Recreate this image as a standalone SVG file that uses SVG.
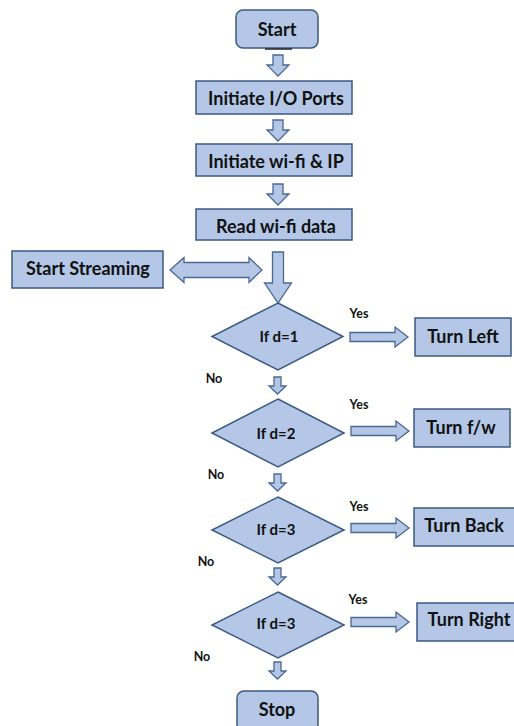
<svg xmlns="http://www.w3.org/2000/svg" width="514" height="726" viewBox="0 0 514 726">
<style>
.box{fill:#b4c7e7;stroke:#3c5a82;stroke-width:1.5}
.arr{fill:#b4c7e7;stroke:#4a6890;stroke-width:1.3;stroke-linejoin:miter}
.t{font-family:Lato,"Open Sans","Liberation Sans",sans-serif;font-weight:bold;font-size:18px;fill:#111;text-anchor:middle;dominant-baseline:central}
.s{font-family:Lato,"Open Sans","Liberation Sans",sans-serif;font-weight:bold;font-size:12.5px;fill:#111;text-anchor:middle;dominant-baseline:central}
.d{font-family:Lato,"Open Sans","Liberation Sans",sans-serif;font-weight:bold;font-size:15px;fill:#111;text-anchor:middle;dominant-baseline:central}
</style>
<defs>
<path id="sd" d="M-3.5,0 H3.5 V9 H8.5 L0,17 L-8.5,9 H-3.5 Z"/>
<path id="md" d="M-5,0 H5 V10 H11 L0,21 L-11,10 H-5 Z"/>
<path id="ra" d="M0,-4.5 H45 V-10 L58,0 L45,10 V4.5 H0 Z"/>
</defs>
<rect width="514" height="726" fill="#fff"/>
<g id="connectors">
<use href="#md" class="arr" x="278" y="55"/>
<use href="#md" class="arr" x="278" y="120"/>
<use href="#md" class="arr" x="278" y="184"/>
<path class="arr" d="M272.5,252 H283.5 V283 H291.5 L278,303 L264.5,283 H272.5 Z"/>
<path class="arr" d="M170,270 L184,257.5 V262.5 H249 V257.5 L262,270 L249,282.5 V277.5 H184 V282.5 Z"/>
<use href="#ra" class="arr" x="350" y="337"/>
<use href="#sd" class="arr" x="277.5" y="377"/>
<use href="#ra" class="arr" x="351" y="431"/>
<use href="#sd" class="arr" x="277.5" y="474"/>
<use href="#ra" class="arr" x="351" y="528"/>
<use href="#sd" class="arr" x="277.5" y="568"/>
<use href="#ra" class="arr" x="351" y="622"/>
<use href="#sd" class="arr" x="277.5" y="662"/>
<text class="s" x="359" y="313">Yes</text>
<text class="s" x="214" y="378">No</text>
<text class="s" x="359" y="404">Yes</text>
<text class="s" x="216" y="474">No</text>
<text class="s" x="359" y="506">Yes</text>
<text class="s" x="206" y="561">No</text>
<text class="s" x="358" y="599">Yes</text>
<text class="s" x="202" y="656">No</text>
</g>
<g id="start"><rect class="box" x="236" y="10" width="82" height="38" rx="7"/><line x1="265" y1="49" x2="292" y2="49" stroke="#222" stroke-width="1.5"/><text class="t" x="277" y="29">Start</text></g>
<g id="initio"><rect class="box" x="196" y="81" width="156" height="33"/><text class="t" x="276" y="98">Initiate I/O Ports</text></g>
<g id="initwifi"><rect class="box" x="196" y="144" width="156" height="32"/><text class="t" x="276" y="161">Initiate wi-fi &amp; IP</text></g>
<g id="readwifi"><rect class="box" x="196" y="209" width="156" height="31"/><text class="t" x="276" y="226">Read wi-fi data</text></g>
<g id="streaming"><rect class="box" x="12" y="251" width="151" height="37"/><text class="t" x="88" y="268">Start Streaming</text></g>
<g id="d1"><polygon class="box" points="278,303 343,336.5 278,370 212,336.5"/><text class="d" x="279" y="336">If d=1</text></g>
<g id="left"><rect class="box" x="415" y="318" width="96" height="38"/><text class="t" x="463" y="336">Turn Left</text></g>
<g id="d2"><polygon class="box" points="278,399 344,433 278,467 212,433"/><text class="d" x="276" y="433">If d=2</text></g>
<g id="fw"><rect class="box" x="414" y="409" width="96" height="38"/><text class="t" x="461" y="427">Turn f/w</text></g>
<g id="d3"><polygon class="box" points="278,497 344,530 278,563 212,530"/><text class="d" x="276" y="529">If d=3</text></g>
<g id="back"><rect class="box" x="414" y="508" width="102" height="38"/><text class="t" x="464" y="525">Turn Back</text></g>
<g id="d4"><polygon class="box" points="278,592 344,625 278,658 212,625"/><text class="d" x="276" y="623">If d=3</text></g>
<g id="right"><rect class="box" x="417" y="603" width="104" height="38"/><text class="t" x="469" y="619">Turn Right</text></g>
<g id="stop"><rect class="box" x="237" y="691" width="81" height="40" rx="7"/><text class="t" x="277" y="709">Stop</text></g>
</svg>
